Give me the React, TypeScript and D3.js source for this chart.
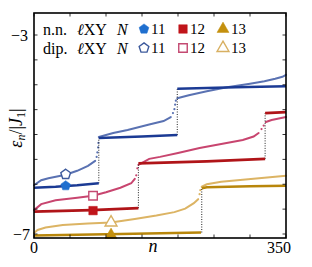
import React from "react";
import {line, scaleLinear, symbol, symbolSquare, symbolTriangle} from "d3";

// n.n. ℓXY levels, one array of [n, ε] per flat segment
const nn11 = [
    [[0, -6.07], [30, -6.05], [60, -6.02], [90, -5.98]],
    [[90, -5.07], [150, -5.04], [199, -5.01]],
    [[199, -4.08], [280, -4.05], [350, -4.03]],
];
const nn12 = [
    [[0, -6.55], [80, -6.52], [145, -6.48]],
    [[145, -5.58], [240, -5.54], [321, -5.49]],
    [[321, -4.57], [350, -4.55]],
];
const nn13 = [
    [[0, -7.03], [120, -7.0], [232, -6.97]],
    [[233, -6.08], [240, -6.06], [300, -6.04], [350, -6.03]],
];

// dipolar ℓXY curves
const dip11 = [
    [[0, -6.02], [10, -5.92], [20, -5.88], [44, -5.81], [60, -5.73], [75, -5.63], [85, -5.53]],
    [[90, -5.05], [110, -4.97], [130, -4.91], [160, -4.8], [180, -4.73], [190, -4.65]],
    [[199, -4.27], [215, -4.21], [240, -4.13], [268, -4.05], [300, -3.98], [320, -3.93], [335, -3.88], [345, -3.84], [350, -3.8]],
];
const dip11Dots = [[87, -5.45], [88, -5.36], [89, -5.26], [89.5, -5.17], [193, -4.57], [195, -4.49], [196, -4.4], [197, -4.32]];
const dip12 = [
    [[0, -6.52], [10, -6.4], [30, -6.32], [60, -6.27], [82, -6.23], [100, -6.16], [120, -6.07], [135, -5.98], [140, -5.89]],
    [[145, -5.61], [160, -5.49], [175, -5.45], [200, -5.37], [230, -5.27], [260, -5.19], [290, -5.11], [305, -5.04], [312, -4.97]],
    [[322, -4.75], [330, -4.71], [340, -4.68], [350, -4.65]],
];
const dip12Dots = [[142, -5.82], [143.5, -5.68], [316, -4.89], [319, -4.82]];
const dip13 = [
    [[0, -6.98], [5, -6.92], [16, -6.87], [40, -6.82], [75, -6.79], [107, -6.77], [140, -6.7], [170, -6.63], [195, -6.56], [210, -6.49], [222, -6.38], [228, -6.3]],
    [[233, -6.05], [240, -6.0], [260, -5.95], [290, -5.91], [320, -5.87], [350, -5.83]],
];
const dip13Dots = [[230, -6.2], [231, -6.12]];

// marker positions [n, ε]
const markers = [
    {shape: "pentagon", filled: true, color: "#1f6fcf", pos: [44, -6.03]},
    {shape: "pentagon", filled: false, color: "#3d5a9c", pos: [44, -5.8]},
    {shape: "square", filled: true, color: "#c0141a", pos: [82, -6.53]},
    {shape: "square", filled: false, color: "#c44a72", pos: [82, -6.23]},
    {shape: "triangle", filled: true, color: "#c4900e", pos: [107, -7.02]},
    {shape: "triangle", filled: false, color: "#d8b062", pos: [107, -6.77]},
];

const xTicks = [0, 50, 100, 150, 200, 250, 300, 350];
const yTicks = [-7, -6.5, -6, -5.5, -5, -4.5, -4, -3.5, -3];
const legendN = ["11", "12", "13"];

const x = scaleLinear().domain([0, 350]).range([34, 286]);
const y = scaleLinear().domain([-7, -3]).range([234, 35]);
const top = 13, bottom = 238;

const lineGen = line().x(d => x(d[0])).y(d => y(d[1]));

function markerPath(shape, size) {
    if (shape === "square") return symbol(symbolSquare, size * size)();
    if (shape === "triangle") return symbol(symbolTriangle, size * size * 0.85)();
    // pentagon
    const r = size * 0.6;
    const pts = [];
    for (let i = 0; i < 5; i++) {
        const a = -Math.PI / 2 + i * 2 * Math.PI / 5;
        pts.push([r * Math.cos(a), r * Math.sin(a)]);
    }
    return "M" + pts.map(p => p.join(",")).join("L") + "Z";
}

function Marker({shape, filled, color, cx, cy, size = 8.5}) {
    return (
        <path d={markerPath(shape, size)} transform={`translate(${cx},${cy})`}
              fill={filled ? color : "white"} stroke={color} strokeWidth={filled ? 0.5 : 1.4}/>
    );
}

function Steps({segs, color, width}) {
    const jumps = [];
    for (let i = 1; i < segs.length; i++) {
        const a = segs[i - 1][segs[i - 1].length - 1];
        const b = segs[i][0];
        jumps.push([b[0], a[1], b[1]]);
    }
    return (
        <g>
            {jumps.map((j, i) => (
                <line key={"j" + i} x1={x(j[0])} x2={x(j[0])} y1={y(j[1])} y2={y(j[2])}
                      stroke="#222" strokeWidth={1} strokeDasharray="1,1.5"/>
            ))}
            {segs.map((s, i) => (
                <path key={i} d={lineGen(s)} fill="none" stroke={color} strokeWidth={width}/>
            ))}
        </g>
    );
}

function Dip({segs, dots, color}) {
    return (
        <g>
            {segs.map((s, i) => (
                <path key={i} d={lineGen(s)} fill="none" stroke={color} strokeWidth={2} strokeLinecap="round"/>
            ))}
            {dots.map((d, i) => (
                <circle key={"d" + i} cx={x(d[0])} cy={y(d[1])} r={1.1} fill={color}/>
            ))}
        </g>
    );
}

export default function App() {
    const font = "Liberation Serif, DejaVu Serif, serif";
    const legendColors = [
        ["#1f6fcf", "#c0141a", "#c4900e"],
        ["#3d5a9c", "#c44a72", "#d8b062"],
    ];
    const shapes = ["pentagon", "square", "triangle"];
    const markerX = [144, 183, 223];
    const labelX = [151, 190, 231];
    return (
        <svg width={312} height={267} style={{position: "absolute", left: 0, top: 0, fontFamily: font}}>
            <rect width={312} height={267} fill="white"/>

            <Dip segs={dip13} dots={dip13Dots} color="#dcb464"/>
            <Steps segs={nn13} color="#b8860b" width={2.6}/>
            <Dip segs={dip12} dots={dip12Dots} color="#c8456f"/>
            <Steps segs={nn12} color="#b01418" width={2.6}/>
            <Dip segs={dip11} dots={dip11Dots} color="#5a72b2"/>
            <Steps segs={nn11} color="#1b3a94" width={2.6}/>

            {markers.map((m, i) => (
                <Marker key={i} shape={m.shape} filled={m.filled} color={m.color}
                        cx={x(m.pos[0])} cy={y(m.pos[1])}/>
            ))}

            {/* ticks, inward on every side */}
            {xTicks.map(t => (
                <g key={"x" + t}>
                    <line x1={x(t)} x2={x(t)} y1={bottom} y2={bottom - 3.5} stroke="black" strokeWidth={0.8}/>
                    <line x1={x(t)} x2={x(t)} y1={top} y2={top + 3.5} stroke="black" strokeWidth={0.8}/>
                </g>
            ))}
            {yTicks.map(t => (
                <g key={"y" + t}>
                    <line x1={34} x2={37.5} y1={y(t)} y2={y(t)} stroke="black" strokeWidth={0.8}/>
                    <line x1={286} x2={282.5} y1={y(t)} y2={y(t)} stroke="black" strokeWidth={0.8}/>
                </g>
            ))}
            <rect x={34} y={top} width={252} height={bottom - top} fill="none" stroke="black" strokeWidth={1.6}/>

            <text x={28} y={y(-3)} dy="0.35em" textAnchor="end" fontSize={16}>−3</text>
            <text x={30} y={y(-7)} dy="0.35em" textAnchor="end" fontSize={16}>−7</text>
            <text x={x(0)} y={253} textAnchor="middle" fontSize={16}>0</text>
            <text x={x(350) + 5} y={253} textAnchor="end" fontSize={16}>350</text>
            <text x={153} y={252} textAnchor="middle" fontSize={18} fontStyle="italic">n</text>

            <text transform="translate(22,128) rotate(-90)" textAnchor="middle" fontSize={18}>
                <tspan fontStyle="italic">ε</tspan>
                <tspan fontStyle="italic" fontSize={12} dy={3}>n</tspan>
                <tspan dy={-3}>/|</tspan>
                <tspan fontStyle="italic">J</tspan>
                <tspan fontSize={12} dy={3}>1</tspan>
                <tspan dy={-3}>|</tspan>
            </text>

            {["n.n.", "dip."].map((lab, r) => {
                const cy = r === 0 ? 29 : 48;
                return (
                    <g key={lab}>
                        <text x={43} y={cy} dy="0.35em" fontSize={16}>{lab}</text>
                        <text x={77} y={cy} dy="0.35em" fontSize={16}>
                            <tspan fontStyle="italic">ℓ</tspan>XY
                        </text>
                        <text x={117} y={cy} dy="0.35em" fontSize={16} fontStyle="italic">N</text>
                        {legendN.map((n, k) => (
                            <g key={n}>
                                <Marker shape={shapes[k]} filled={r === 0} color={legendColors[r][k]}
                                        cx={markerX[k]} cy={cy}/>
                                <text x={labelX[k]} y={cy} dy="0.35em" fontSize={15}>{n}</text>
                            </g>
                        ))}
                    </g>
                );
            })}
        </svg>
    );
}
